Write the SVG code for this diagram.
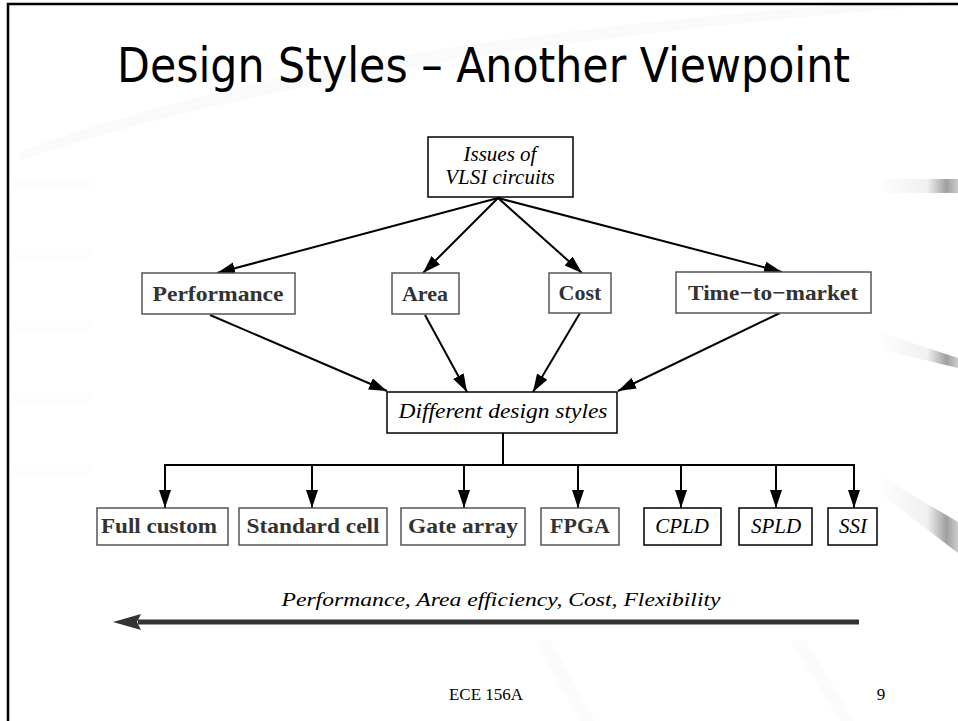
<svg xmlns="http://www.w3.org/2000/svg" width="958" height="721" viewBox="0 0 958 721">
<defs>
<marker id="ah" markerUnits="userSpaceOnUse" markerWidth="20" markerHeight="14" refX="18" refY="6" orient="auto">
<path d="M0,0 L18,6 L0,12 z" fill="#000"/>
</marker>
<linearGradient id="gr" x1="0" y1="0" x2="1" y2="0">
<stop offset="0" stop-color="#fdfdfd"/>
<stop offset="0.6" stop-color="#f0f0f0"/>
<stop offset="0.85" stop-color="#a0a0a0"/>
<stop offset="1" stop-color="#cccccc"/>
</linearGradient>
</defs>
<style>
.bx{fill:#fff;stroke:#000;stroke-width:1.5}
.bg{fill:#fff;stroke:#555;stroke-width:1.5}
.it{font-family:"Liberation Serif","Times New Roman",serif;font-style:italic;fill:#000;font-size:21px}
.bd{font-family:"Liberation Serif","Times New Roman",serif;font-weight:bold;fill:#333;font-size:22px}
.cn{stroke:#000;stroke-width:2;fill:none}
.ca{stroke:#000;stroke-width:2;fill:none;marker-end:url(#ah)}
</style>
<rect width="958" height="721" fill="#fff"/>
<g id="background">
<path d="M20,152 Q300,45 850,4 L958,4 Q350,50 20,160 z" fill="#fafafa"/>
<rect x="12" y="178" width="78" height="12" fill="#fdfdfd"/>
<rect x="12" y="248" width="78" height="12" fill="#fdfdfd"/>
<rect x="12" y="320" width="78" height="12" fill="#fdfdfd"/>
<rect x="12" y="392" width="78" height="12" fill="#fdfdfd"/>
<rect x="12" y="463" width="78" height="12" fill="#fdfdfd"/>
<rect x="882" y="179" width="76" height="14" fill="url(#gr)"/>
<polygon points="882,333 958,358 958,368 882,350" fill="url(#gr)"/>
<polygon points="882,477 958,522 958,553 882,495" fill="url(#gr)"/>
<polygon points="535,640 550,640 595,721 580,721" fill="#fbfbfb"/>
<polygon points="790,640 805,640 855,721 840,721" fill="#fbfbfb"/>
</g>
<path d="M8,721 L8,4 L958,4" fill="none" stroke="#000" stroke-width="2.5"/>
<text x="117" y="82" font-family="Tahoma,'DejaVu Sans Condensed','Liberation Sans',sans-serif" font-size="48" fill="#000" textLength="733" lengthAdjust="spacingAndGlyphs">Design Styles – Another Viewpoint</text>

<g id="connectors">
<line class="ca" x1="498" y1="198" x2="217" y2="273"/>
<line class="ca" x1="498" y1="198" x2="423" y2="273"/>
<line class="ca" x1="498" y1="198" x2="582" y2="273"/>
<line class="ca" x1="498" y1="198" x2="782" y2="272"/>
<line class="ca" x1="210" y1="315" x2="387" y2="391"/>
<line class="ca" x1="425" y1="315" x2="467" y2="392"/>
<line class="ca" x1="580" y1="313" x2="533" y2="392"/>
<line class="ca" x1="780" y1="313" x2="618" y2="391"/>
<line class="cn" x1="503" y1="433" x2="503" y2="465"/>
<line class="cn" x1="165" y1="465" x2="854" y2="465"/>
<line class="ca" x1="165" y1="464" x2="165" y2="508"/>
<line class="ca" x1="312" y1="464" x2="312" y2="508"/>
<line class="ca" x1="464" y1="464" x2="464" y2="508"/>
<line class="ca" x1="578" y1="464" x2="578" y2="508"/>
<line class="ca" x1="681" y1="464" x2="681" y2="508"/>
<line class="ca" x1="776" y1="464" x2="776" y2="508"/>
<line class="ca" x1="854" y1="464" x2="854" y2="508"/>
</g>

<g id="issues">
<rect class="bx" x="428" y="137" width="145" height="60"/>
<text class="it" x="500" y="161" text-anchor="middle">Issues of</text>
<text class="it" x="500" y="184" text-anchor="middle">VLSI circuits</text>
</g>
<g id="performance">
<rect class="bg" x="142" y="273" width="153" height="41"/>
<text class="bd" x="218" y="301" text-anchor="middle" textLength="131" lengthAdjust="spacingAndGlyphs">Performance</text>
</g>
<g id="area">
<rect class="bg" x="392" y="273" width="67" height="41"/>
<text class="bd" x="425" y="301" text-anchor="middle">Area</text>
</g>
<g id="cost">
<rect class="bg" x="549" y="273" width="62" height="40"/>
<text class="bd" x="580" y="300" text-anchor="middle">Cost</text>
</g>
<g id="time-to-market">
<rect class="bg" x="676" y="272" width="195" height="41"/>
<text class="bd" x="773" y="300" text-anchor="middle" textLength="170" lengthAdjust="spacingAndGlyphs">Time−to−market</text>
</g>
<g id="different">
<rect class="bx" x="387" y="392" width="230" height="41"/>
<text class="it" x="503" y="418" text-anchor="middle" textLength="209" lengthAdjust="spacingAndGlyphs">Different design styles</text>
</g>
<g id="full-custom">
<rect class="bg" x="97" y="508" width="131" height="37"/>
<text class="bd" x="159" y="533" text-anchor="middle" textLength="116" lengthAdjust="spacingAndGlyphs">Full custom</text>
</g>
<g id="standard-cell">
<rect class="bg" x="239" y="508" width="148" height="37"/>
<text class="bd" x="313" y="533" text-anchor="middle" textLength="133" lengthAdjust="spacingAndGlyphs">Standard cell</text>
</g>
<g id="gate-array">
<rect class="bg" x="401" y="508" width="124" height="37"/>
<text class="bd" x="463" y="533" text-anchor="middle" textLength="110" lengthAdjust="spacingAndGlyphs">Gate array</text>
</g>
<g id="fpga">
<rect class="bg" x="541" y="508" width="78" height="37"/>
<text class="bd" x="580" y="533" text-anchor="middle">FPGA</text>
</g>
<g id="cpld">
<rect class="bx" x="644" y="508" width="77" height="37"/>
<text class="it" x="682" y="533" text-anchor="middle">CPLD</text>
</g>
<g id="spld">
<rect class="bx" x="739" y="508" width="73" height="37"/>
<text class="it" x="776" y="533" text-anchor="middle">SPLD</text>
</g>
<g id="ssi">
<rect class="bx" x="828" y="508" width="49" height="37"/>
<text class="it" x="853" y="533" text-anchor="middle">SSI</text>
</g>

<g id="trend">
<text x="501" y="606" text-anchor="middle" font-family="'Liberation Serif','Times New Roman',serif" font-style="italic" font-size="19" fill="#000" textLength="439" lengthAdjust="spacingAndGlyphs">Performance, Area efficiency, Cost, Flexibility</text>
<line x1="138" y1="622" x2="859" y2="622" stroke="#333" stroke-width="5"/>
<polygon points="113,622 141,614 137,622 141,630" fill="#333"/>
</g>
<text x="486" y="700" text-anchor="middle" font-family="'Liberation Serif','Times New Roman',serif" font-size="17" fill="#000">ECE 156A</text>
<text x="881" y="700" text-anchor="middle" font-family="'Liberation Serif','Times New Roman',serif" font-size="17" fill="#000">9</text>
</svg>
